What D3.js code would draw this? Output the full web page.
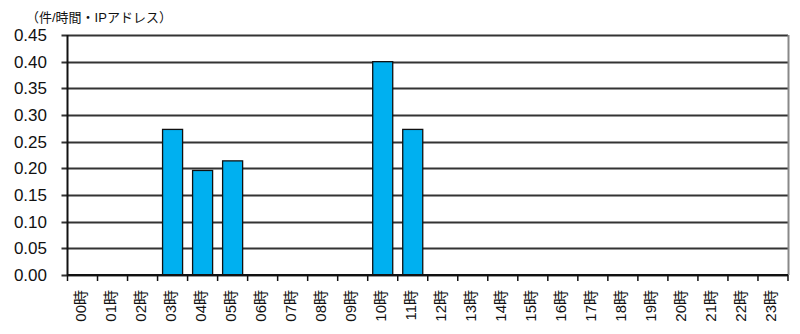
<!DOCTYPE html>
<html>
<head>
<meta charset="utf-8">
<script src="https://cdn.jsdelivr.net/npm/d3@7.9.0/dist/d3.min.js"></script>
<style>
  body { margin: 0; background: #fff; }
  text { font-family: "Liberation Sans", Arial, "Noto Sans CJK JP", sans-serif; fill: #111; }
</style>
</head>
<body>
<svg id="chart" width="800" height="334"></svg>
<script>
const hours = d3.range(24).map((h) => String(h).padStart(2, "0") + "時");
const values = [0, 0, 0, 0.273, 0.196, 0.214, 0, 0, 0, 0, 0.40, 0.273, 0, 0, 0, 0, 0, 0, 0, 0, 0, 0, 0, 0];
const yTicks = [0, 0.05, 0.1, 0.15, 0.2, 0.25, 0.3, 0.35, 0.4, 0.45];
const unitLabel = "（件/時間・IPアドレス）";

const margin = { top: 35, right: 12, bottom: 59, left: 67.5 };
const width = 800, height = 334;

const svg = d3.select("#chart");

const x = d3.scaleBand()
  .domain(hours)
  .range([margin.left, width - margin.right])
  .paddingInner(0.333)
  .paddingOuter(0.1667);

const y = d3.scaleLinear()
  .domain([0, 0.45])
  .range([height - margin.bottom, margin.top]);

// gridlines + left ticks
svg.append("g")
  .selectAll("line")
  .data(yTicks)
  .join("line")
  .attr("x1", margin.left - 6)
  .attr("x2", width - margin.right)
  .attr("y1", (d) => Math.round(y(d)) + 0.5)
  .attr("y2", (d) => Math.round(y(d)) + 0.5)
  .attr("stroke", "#333")
  .attr("stroke-width", 2);

// y labels
svg.append("g")
  .selectAll("text")
  .data(yTicks)
  .join("text")
  .attr("x", 47)
  .attr("y", (d) => y(d))
  .attr("dy", "0.36em")
  .attr("text-anchor", "end")
  .attr("font-size", 17)
  .text((d) => d.toFixed(2));

// right border
svg.append("line")
  .attr("x1", width - margin.right + 0.5)
  .attr("x2", width - margin.right + 0.5)
  .attr("y1", y(0.45))
  .attr("y2", y(0))
  .attr("stroke", "#888")
  .attr("stroke-width", 2);

// bars
svg.append("g")
  .selectAll("rect")
  .data(values.map((v, i) => ({ hour: hours[i], value: v })).filter((d) => d.value > 0))
  .join("rect")
  .attr("x", (d) => x(d.hour))
  .attr("y", (d) => y(d.value))
  .attr("width", x.bandwidth())
  .attr("height", (d) => y(0) - y(d.value))
  .attr("fill", "#00B0F0")
  .attr("stroke", "#111")
  .attr("stroke-width", 1.3);

// x axis
const step = x.step();
const bounds = d3.range(25).map((i) => margin.left + i * step);
svg.append("line")
  .attr("x1", margin.left)
  .attr("x2", width - margin.right)
  .attr("y1", y(0))
  .attr("y2", y(0))
  .attr("stroke", "#111")
  .attr("stroke-width", 2);
svg.append("g")
  .selectAll("line")
  .data(bounds)
  .join("line")
  .attr("x1", (d) => d)
  .attr("x2", (d) => d)
  .attr("y1", y(0))
  .attr("y2", y(0) + 6)
  .attr("stroke", "#111")
  .attr("stroke-width", 1.5);

// left axis
svg.append("line")
  .attr("x1", margin.left)
  .attr("x2", margin.left)
  .attr("y1", y(0.45))
  .attr("y2", y(0))
  .attr("stroke", "#111")
  .attr("stroke-width", 2);

// x labels rotated
svg.append("g")
  .selectAll("text")
  .data(hours)
  .join("text")
  .attr("transform", (d) => `translate(${x(d) + x.bandwidth() / 2 + 3},290) rotate(-90)`)
  .attr("text-anchor", "end")
  .attr("font-size", 15)
  .text((d) => d);

// unit label
svg.append("text")
  .attr("x", 26)
  .attr("y", 22)
  .attr("font-size", 13)
  .attr("font-family", "'Noto Sans CJK JP', sans-serif")
  .text(unitLabel);
</script>
</body>
</html>
